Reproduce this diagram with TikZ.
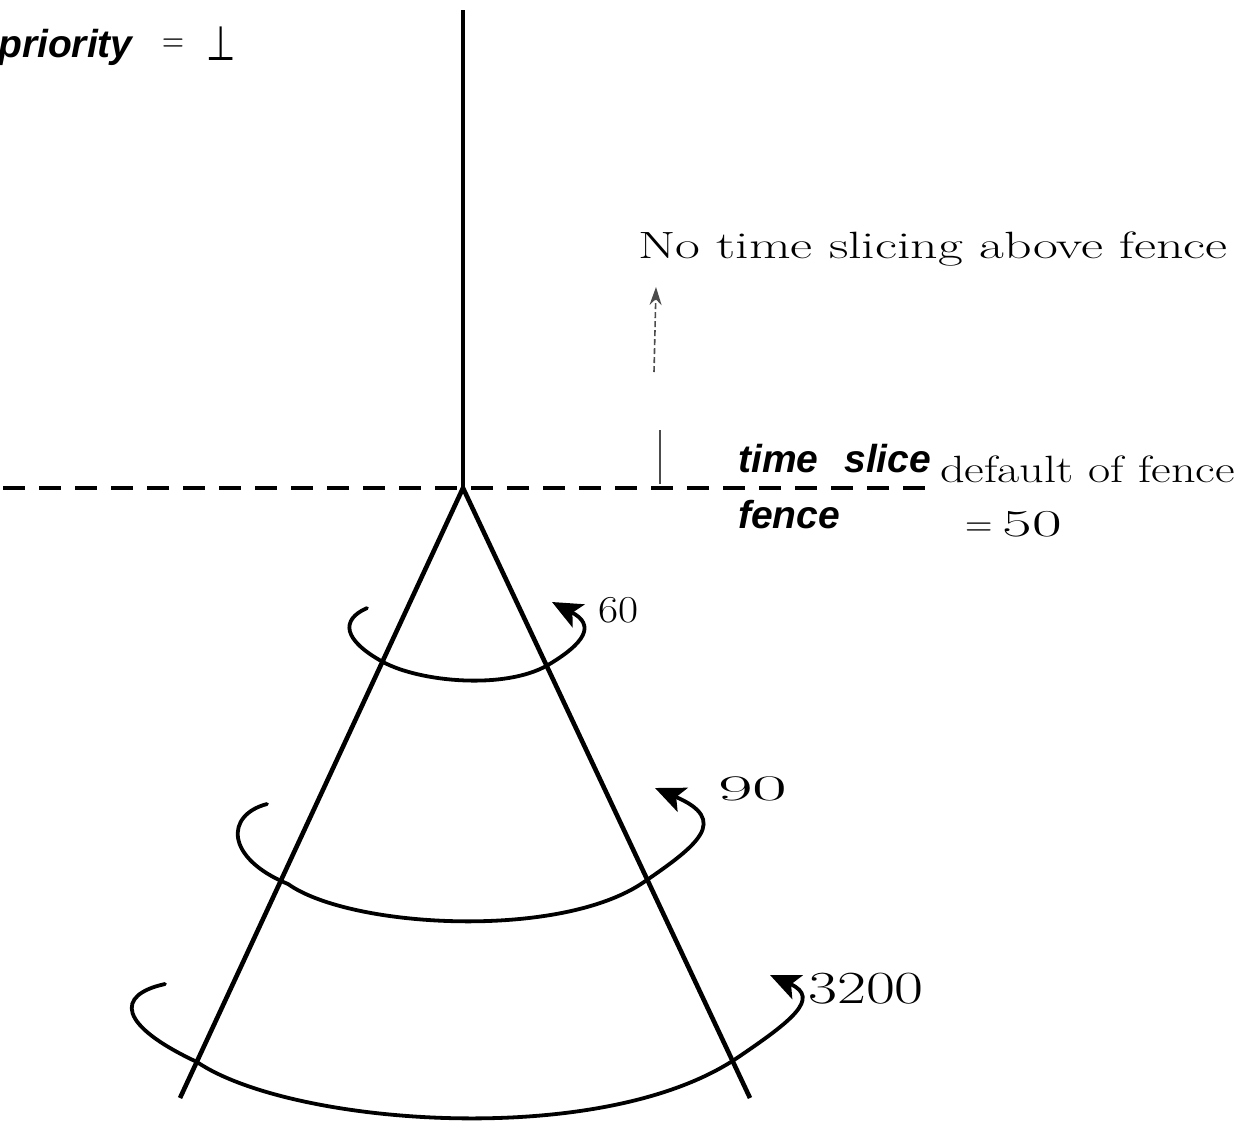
\documentclass[tikz,border=0pt]{standalone}
\usepackage{fontspec}
\usepackage{graphicx}
\newfontfamily\hv{Liberation Sans}
\newfontfamily\dv{DejaVu Sans}
\usetikzlibrary{arrows.meta}
\begin{document}
\begin{tikzpicture}[x=1pt,y=-1pt,
  axisline/.style={line width=3.4pt},
  coneline/.style={line width=4.6pt, line join=round},
  swirl/.style={line width=3.8pt, line cap=round, -{Stealth[length=30pt,width=26pt,inset=7pt]}},
  fencedash/.style={line width=3.2pt, dash pattern=on 22pt off 14pt},
  typed/.style={inner sep=0pt, font=\hv\bfseries\itshape\fontsize{39}{39}\selectfont},
  hand/.style={inner sep=0pt, font=\fontsize{38}{38}\selectfont},
  pencil/.style={line width=1.6pt, black!70}]
\useasboundingbox (0,0) rectangle (1246,1122);
\fill[white] (0,0) rectangle (1246,1122);

% main structure
\coordinate (top) at (463,10);
\coordinate (apex) at (463,488);
\coordinate (lfoot) at (180,1098);
\coordinate (rfoot) at (750,1098);
\coordinate (fenceL) at (3,488);
\coordinate (fenceR) at (932,488);

\draw[fencedash] (fenceL) -- (fenceR);
\draw[axisline] (top) -- (apex);
\draw[coneline] (lfoot) -- (apex) -- (rfoot);

% rotation swirls
\draw[swirl] (367,608) .. controls (340,620) and (343,640) .. (383,662)
  .. controls (420,682) and (505,690) .. (548,665)
  .. controls (585,643) and (596,625) .. (552,602);
\draw[swirl] (267,804) .. controls (225,815) and (225,858) .. (288,884)
  .. controls (350,928) and (560,940) .. (644,882)
  .. controls (698,845) and (730,820) .. (655,788);
\draw[swirl] (165,984) .. controls (115,995) and (118,1025) .. (197,1062)
  .. controls (290,1125) and (600,1150) .. (737,1058)
  .. controls (790,1022) and (822,998) .. (770,975);

% typed labels
\node[typed, anchor=base west] (prio) at (-2,57) {priority};
\node[inner sep=0pt, font=\fontsize{38}{38}\selectfont] (eqA) at (173,46) {\scalebox{0.8}[1]{=}};
\node[inner sep=0pt, font=\dv\fontsize{48}{48}\selectfont] (bot) at (221,44) {\scalebox{0.7}[1]{⊥}};
\node[typed, anchor=base west] (ts) at (738,472) {time\hspace{26pt}slice};
\node[typed, anchor=base west] (fn) at (738,528) {fence};

% handwritten labels
\node[hand, anchor=base west] (note) at (638,258) {\scalebox{1.42}[1]{No time slicing above fence}};
\node[hand, anchor=base west] (deflt) at (940,482) {\scalebox{1.27}[1]{default of fence}};
\node[hand, anchor=base west] (fifty) at (965,536) {=\hspace{10pt}\scalebox{1.7}[1]{50}};
\node[hand, anchor=base west] (l60) at (598,622) {\scalebox{1.15}[1]{60}};
\node[hand, anchor=base west, font=\fontsize{36}{36}\selectfont] (l90) at (718,800) {\scalebox{2.1}[1]{90}};
\node[hand, anchor=base west, font=\fontsize{46}{46}\selectfont] (l3200) at (808,1003) {\scalebox{1.37}[1]{3200}};

% pencil marks
\coordinate (pA) at (654,372);
\coordinate (pB) at (656,287);
\draw[pencil, dash pattern=on 6pt off 3pt, -{Stealth[length=18pt,width=12pt]}] (pA) -- (pB);
\coordinate (tA) at (660,430);
\coordinate (tB) at (660,484);
\draw[pencil] (tA) -- (tB);
\end{tikzpicture}
\end{document}
